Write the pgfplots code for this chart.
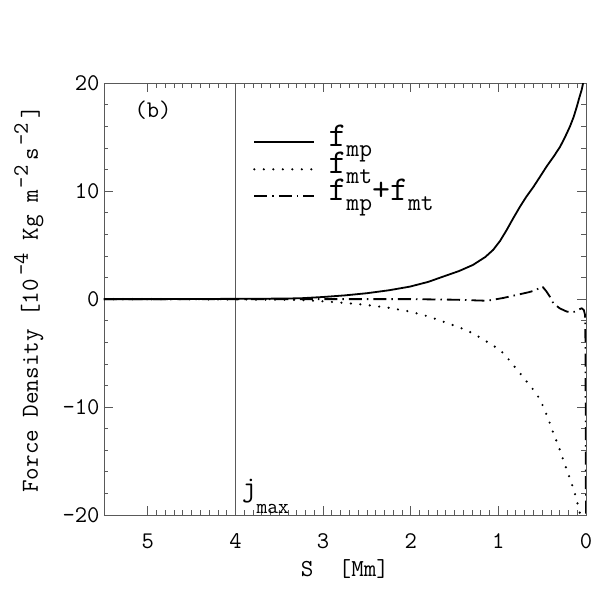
\documentclass[border=0pt]{standalone}
\usepackage{fontspec}
\usepackage{pgfplots}
\pgfplotsset{compat=1.18}
\newcommand\fs[1]{\ttfamily\fontsize{#1}{#1}\selectfont}
\newcommand\lf{\fs{35}}
\newcommand\ls[1]{\raisebox{-10bp}{\fs{25}#1}}
\newcommand\sps[1]{\raisebox{10bp}{\fs{22}#1}}
\begin{document}
\begin{tikzpicture}
\path[use as bounding box] (0bp,0bp) rectangle (600bp,600bp);
\begin{axis}[
  at={(104bp,85bp)}, anchor=south west, scale only axis,
  width=482bp, height=431.7bp,
  x dir=reverse, xmin=0, xmax=5.5, ymin=-20, ymax=20,
  xtick={0,1,2,3,4,5}, ytick={-20,-10,0,10,20},
  minor x tick num=9, minor y tick num=4,
  tick align=inside, major tick length=9bp, minor tick length=4.5bp,
  axis line style={black!65, line width=0.8bp},
  every tick/.style={black!65, line width=0.8bp},
  tick label style={font=\fs{24}},
  /pgf/number format/assume math mode=true,
  xticklabel style={anchor=base, yshift=-33bp},
  yticklabel style={xshift=-1bp},
  clip mode=individual,
  xlabel={S\ \ [Mm]},
  xlabel style={at={(axis description cs:0.5,-0.1436)}, anchor=base, font=\fs{24.5}},
  ylabel={Force Density [10\hspace{3bp}\sps{-4}\hspace{13bp}Kg m\hspace{2bp}\sps{-2}\hspace{5bp}s\hspace{2bp}\sps{-2}\hspace{5bp}]},
  ylabel style={at={(axis description cs:-0.137,0.5)}, anchor=base, font=\fs{24.5}},
  legend style={at={(axis description cs:0.309,0.895)}, anchor=north west, draw=none, fill=none,
    inner sep=0pt, row sep=0pt, column sep=0pt,
    nodes={inner sep=0pt, text height=18bp, text depth=9bp}},
  legend cell align=left,
  legend image code/.code={\draw[#1] (0bp,0bp) -- (60bp,0bp);},
]
\addplot[black!65, line width=0.6bp, forget plot] coordinates {(4,-20) (4,20)};

\addplot[black, line width=1.8bp] coordinates {
(5.5,0) (5.0,0.0) (4.5,0.01) (4.0,0.03) (3.5,0.05) (3.26,0.08) (3.0,0.2) (2.75,0.35)
(2.5,0.55) (2.25,0.82) (2.01,1.16) (1.8,1.6) (1.63,2.09) (1.45,2.6) (1.29,3.17)
(1.15,3.9) (1.06,4.56) (0.98,5.4) (0.905,6.41) (0.83,7.5) (0.753,8.57) (0.68,9.5)
(0.60,10.4) (0.52,11.4) (0.449,12.3) (0.37,13.2) (0.297,14.1) (0.24,15.0) (0.183,16.0)
(0.14,16.9) (0.106,17.8) (0.075,18.7) (0.049,19.4) (0.031,20.1) (0.015,21)
};
\addlegendentry{\hspace{13bp}{\lf f}\ls{mp}}

\addplot[black, line width=2.4bp, line cap=round, dash pattern=on 0bp off 9.5bp] coordinates {
(5.5,0) (5.0,0.0) (4.5,-0.01) (4.0,-0.03) (3.5,-0.05) (3.26,-0.07) (3.0,-0.2) (2.75,-0.35)
(2.5,-0.54) (2.25,-0.8) (2.01,-1.15) (1.8,-1.6) (1.63,-2.08) (1.45,-2.6) (1.29,-3.16)
(1.15,-3.85) (0.98,-4.7) (0.87,-5.7) (0.753,-6.87) (0.68,-7.6) (0.60,-8.4) (0.54,-9.1)
(0.487,-9.96) (0.43,-11.1) (0.373,-12.4) (0.31,-13.7) (0.259,-14.9) (0.21,-16.0)
(0.163,-17.1) (0.12,-18.2) (0.088,-19.2) (0.06,-20.2)
};
\addlegendentry{\hspace{13bp}{\lf f}\ls{mt}}

\addplot[black, line width=1.8bp, dash pattern=on 13bp off 5bp on 1.5bp off 5bp] coordinates {
(5.5,0) (4.0,0) (3.0,0) (2.0,0) (1.5,-0.05) (1.13,-0.15) (0.95,0.1) (0.79,0.39) (0.65,0.65)
(0.563,0.85) (0.525,1.16) (0.49,1.1) (0.45,0.7) (0.41,0.2) (0.373,-0.38) (0.3,-0.85)
(0.22,-1.15) (0.17,-1.22) (0.126,-1.16) (0.08,-0.95) (0.049,-0.85) (0.025,-1.0)
(0.011,-1.46) (0.006,-4) (0.003,-12) (0.0,-21)
};
\addlegendentry{\hspace{13bp}{\lf f}\ls{mp}{\lf +f}\ls{mt}}

\node[font=\fs{24}] at (axis cs:4.94,17.5) {(b)};
\node[anchor=base west, inner sep=0pt, font=\fs{29}] at (axis cs:3.93,-18.24)
  {j\raisebox{-17bp}{\fs{21}max}};
\end{axis}
\end{tikzpicture}
\end{document}
